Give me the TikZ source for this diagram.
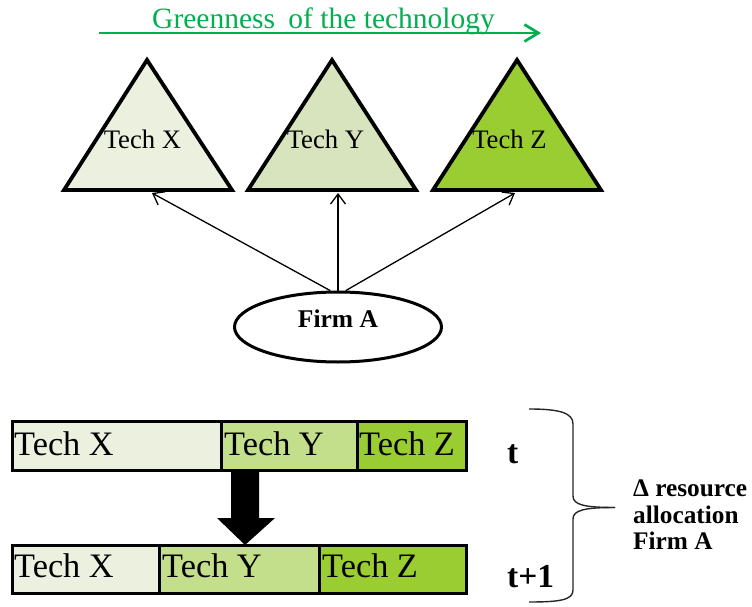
\documentclass[tikz,border=0pt]{standalone}
\usepackage{fontspec}
\setmainfont{Liberation Serif}
\usetikzlibrary{arrows.meta,shapes.geometric}
\definecolor{gx}{HTML}{EBF1DE}
\definecolor{gy}{HTML}{D7E4BD}
\definecolor{gyb}{HTML}{C3DF8B}
\definecolor{gz}{HTML}{9ACD32}
\definecolor{grn}{HTML}{00B050}
\tikzset{
  tri/.style={draw=black,line width=3.8pt,line join=miter},
  trilab/.style={anchor=base,inner sep=0pt,font=\fontsize{26.7}{31}\selectfont},
  seg/.style={draw=black,line width=3pt},
  seglab/.style={anchor=base west,inner sep=0pt,font=\fontsize{34.3}{39}\selectfont},
  conn/.style={draw=black,line width=1.3pt,-{Straight Barb[length=10pt,width=15pt]}},
  boldlab/.style={anchor=base west,inner sep=0pt,font=\bfseries\fontsize{33.5}{38}\selectfont},
  sidelab/.style={anchor=base west,inner sep=0pt,font=\bfseries\fontsize{25.3}{28}\selectfont},
}
\begin{document}
\begin{tikzpicture}[x=1pt,y=-1pt]
\useasboundingbox (0,0) rectangle (752,607);
% green arrow and title
\coordinate (g1) at (99,33);
\coordinate (g2) at (541,33);
\draw[grn,line width=2.7pt,-{Straight Barb[length=14pt,width=17pt]}] (g1) -- (g2);
\node[anchor=base west,inner sep=0pt,text=grn,font=\fontsize{29.5}{34}\selectfont] (title) at (152,29) {Greenness\hspace{6pt} of the technology};
% triangles
\filldraw[tri,fill=gx] (64,190) -- (147,60) -- (232,190) -- cycle;
\filldraw[tri,fill=gy] (248,190) -- (332,60) -- (416,190) -- cycle;
\filldraw[tri,fill=gz] (433,190) -- (517,60) -- (601,190) -- cycle;
\node[trilab] (tx) at (142.5,149) {Tech X};
\node[trilab] (ty) at (325.5,149) {Tech Y};
\node[trilab] (tz) at (509.5,149) {Tech Z};
\coordinate (bx) at (152,193);
\coordinate (by) at (338,193);
\coordinate (bz) at (515,193);
% firm ellipse
\node[draw=black,ellipse,line width=3pt,minimum width=207pt,minimum height=70pt,inner sep=0pt,
      text height=12pt,text depth=12pt,font=\bfseries\fontsize{25.5}{29}\selectfont] (firm) at (338,327) {Firm A};
\draw[conn] (firm.102) -- (bx);
\draw[conn] (firm.north) -- (by);
\draw[conn] (firm.78) -- (bz);
% bars
\filldraw[seg,fill=gx]  (12.5,421.5) rectangle (221,470.5);
\filldraw[seg,fill=gyb] (221,421.5) rectangle (357,470.5);
\filldraw[seg,fill=gz]  (357,421.5) rectangle (466.5,470.5);
\node[seglab] (t1x) at (14,455) {Tech X};
\node[seglab] (t1y) at (224,455) {Tech Y};
\node[seglab] (t1z) at (359,455) {Tech Z};
\filldraw[seg,fill=gx]  (12.5,545.5) rectangle (159,593.5);
\filldraw[seg,fill=gyb] (159,545.5) rectangle (319,593.5);
\filldraw[seg,fill=gz]  (319,545.5) rectangle (466.5,593.5);
\node[seglab] (t2x) at (14,577) {Tech X};
\node[seglab] (t2y) at (162,577) {Tech Y};
\node[seglab] (t2z) at (322,577) {Tech Z};
% block arrow
\fill[black] (231,470) -- (259,470) -- (259,518) -- (275,518) -- (245,545) -- (217,518) -- (231,518) -- cycle;
% time labels
\node[boldlab] (tt) at (507,463) {t};
\node[boldlab] (tt1) at (507,587) {t+1};
% brace
\draw[black!85,line width=1.4pt] (529,409) .. controls (560,409) and (573,413) .. (573,424) -- (573,496)
   .. controls (573,505) and (585,507.5) .. (615,507.5);
\draw[black!85,line width=1.4pt] (615,507.5) .. controls (585,507.5) and (573,510) .. (573,519) -- (573,590)
   .. controls (573,600) and (560,602) .. (529,602);
\node[sidelab] (s1) at (633,496) {Δ resource};
\node[sidelab] (s2) at (633,523) {allocation};
\node[sidelab] (s3) at (633,549) {Firm A};
\end{tikzpicture}
\end{document}
